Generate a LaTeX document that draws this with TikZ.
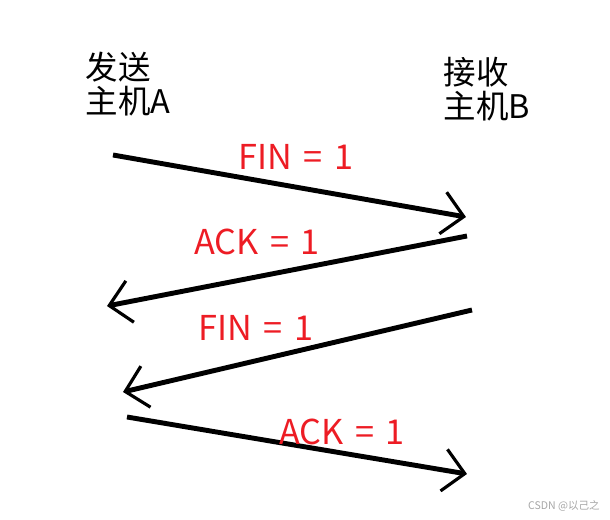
\documentclass[tikz,border=0pt]{standalone}
\usepackage{fontspec}
\usepackage{xcolor}
\newfontfamily\cjk{Noto Sans CJK SC}
\usetikzlibrary{arrows.meta, positioning}
\definecolor{labred}{RGB}{237,28,36}
\newcommand{\msgfont}{\cjk\fontsize{19.5}{20}\selectfont\spaceskip=0.33em\relax}

\begin{document}
\begin{tikzpicture}[
  x=0.02cm, y=-0.02cm,
  host/.style={align=left, font=\cjk\fontsize{18.5}{19.5}\selectfont, inner sep=0pt},
  msg/.style={font=\msgfont, text=labred, inner sep=0pt},
  arr/.style={line width=2.8pt, -{Straight Barb[length=12pt, width=24pt, line width=1.8pt]}},
  wmark/.style={font=\cjk\fontsize{6}{7}\selectfont, text=black!35, inner sep=0pt}
]
\useasboundingbox (0,0) rectangle (610,520);

\node[host] (hostA) at (128,84) {发送\\主机A};
\node[host] (hostB) at (487,89) {接收\\主机B};

\coordinate (a1) at (113,155);
\coordinate (b1) at (466,217);
\coordinate (b2) at (467,236);
\coordinate (a2) at (107,306);
\coordinate (b3) at (472,310);
\coordinate (a3) at (123,392);
\coordinate (a4) at (127,417);
\coordinate (b4) at (467,474);

\draw[arr] (a1) -- (b1);
\draw[arr] (b2) -- (a2);
\draw[arr] (b3) -- (a3);
\draw[arr] (a4) -- (b4);

\node[msg] (fin1) at (296,157) {FIN = 1};
\node[msg] (ack1) at (257,242) {ACK = 1};
\node[msg] (fin2) at (256,328) {FIN = 1};
\node[msg] (ack2) at (342,432) {ACK = 1};

\node[wmark] (wm) at (564,506) {CSDN @以己之};
\end{tikzpicture}
\end{document}
